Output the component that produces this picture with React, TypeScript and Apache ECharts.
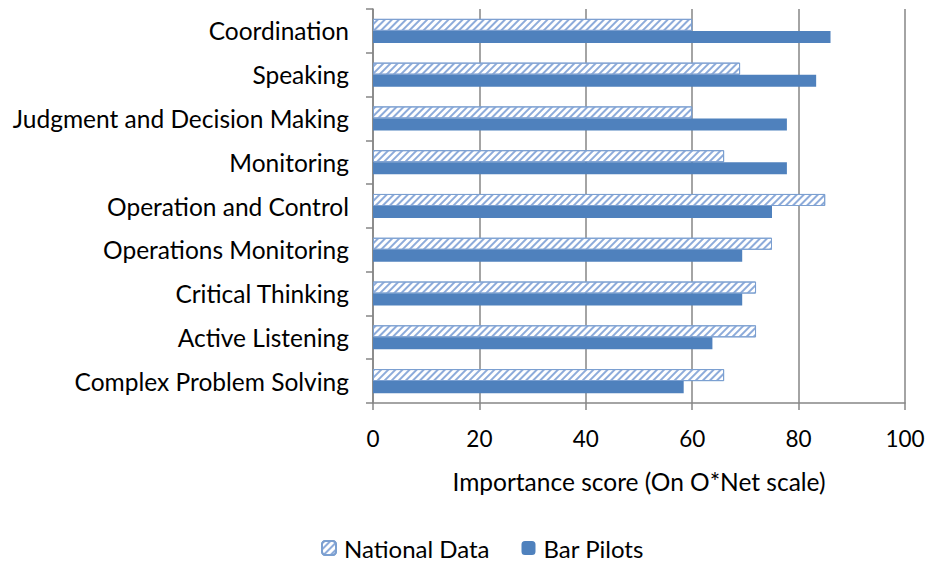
import React, { useEffect, useRef } from "react";
import * as echarts from "echarts";

const categories = [
  "Coordination",
  "Speaking",
  "Judgment and Decision Making",
  "Monitoring",
  "Operation and Control",
  "Operations Monitoring",
  "Critical Thinking",
  "Active Listening",
  "Complex Problem Solving",
];
const nationalData = [60, 69, 60, 66, 85, 75, 72, 72, 66];
const barPilots = [86, 83.3, 77.8, 77.8, 75, 69.4, 69.4, 63.8, 58.4];
const xTicks = { min: 0, max: 100, interval: 20 };

const FONT = "Lato, 'Open Sans', sans-serif";
const AXIS = "#868686";
const BLUE = "#4F81BD";

export default function App() {
  const ref = useRef<HTMLDivElement>(null);
  useEffect(() => {
    if (!ref.current) return;
    const chart = echarts.init(ref.current, undefined, { renderer: "svg" });
    chart.setOption({
      animation: false,
      textStyle: { fontFamily: FONT },
      grid: { left: 373, right: 23, top: 9, bottom: 164 },
      legend: {
        bottom: 2,
        left: 316,
        itemWidth: 14,
        itemHeight: 14,
        itemGap: 32,
        textStyle: { fontSize: 24, color: "#000", fontFamily: FONT, padding: [0, 0, 0, 3] },
        data: ["National Data", "Bar Pilots"],
      },
      xAxis: {
        type: "value",
        min: xTicks.min,
        max: xTicks.max,
        interval: xTicks.interval,
        name: "Importance score (On O*Net scale)",
        nameLocation: "middle",
        nameGap: 66,
        nameTextStyle: { fontSize: 24.5, color: "#000", fontFamily: FONT },
        axisLine: { show: true, lineStyle: { color: AXIS, width: 1.5 } },
        axisTick: { show: true, length: 7, lineStyle: { color: AXIS, width: 1.5 } },
        axisLabel: { fontSize: 22.5, color: "#000", margin: 24, fontFamily: FONT },
        splitLine: { show: true, lineStyle: { color: AXIS, width: 1.5 } },
      },
      yAxis: {
        type: "category",
        data: categories,
        inverse: true,
        axisLine: { show: true, lineStyle: { color: AXIS, width: 1.5 } },
        axisTick: { show: true, length: 7, lineStyle: { color: AXIS, width: 1.5 } },
        axisLabel: { fontSize: 24.5, color: "#000", margin: 24, fontFamily: FONT },
        splitLine: { show: false },
      },
      series: [
        {
          name: "National Data",
          type: "bar",
          data: nationalData,
          barGap: "0%",
          barCategoryGap: "45%",
          itemStyle: {
            color: "#ffffff",
            borderColor: "#7B9FD0",
            borderWidth: 1,
            decal: {
              symbol: "rect",
              symbolSize: 1,
              dashArrayX: [1, 0],
              dashArrayY: [2, 3],
              rotation: -Math.PI / 4,
              color: "#8DABDA",
            },
          },
        },
        {
          name: "Bar Pilots",
          type: "bar",
          data: barPilots,
          barGap: "0%",
          barCategoryGap: "45%",
          itemStyle: { color: BLUE },
        },
      ],
    });
    return () => chart.dispose();
  }, []);
  return <div ref={ref} style={{ width: 928, height: 567, position: "absolute", left: 0, top: 0 }} />;
}
